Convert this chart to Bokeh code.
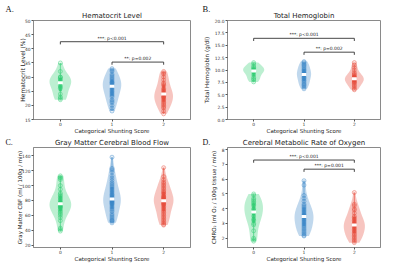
import numpy as np
from bokeh.plotting import figure
from bokeh.layouts import gridplot
from bokeh.models import Title, FixedTicker, NumeralTickFormatter, Range1d
from bokeh.embed import file_html
from bokeh.resources import INLINE

groups = [0, 1, 2]
colors = ["#2ecc71", "#3a87c8", "#e74c3c"]
x_label = "Categorical Shunting Score"

hct_0 = [35, 32, 30, 30, 29.5, 29, 28.5, 28, 27, 26.5, 26, 24, 23, 22.5, 22]
hct_1 = [33, 32.5, 32, 31, 30.5, 30, 29.5, 29, 28.5, 28, 28, 27.5, 27, 27, 26.5, 26,
         25.5, 25, 24.5, 24, 23.5, 23, 22, 21.5, 21, 20, 19, 18]
hct_2 = [32, 31.5, 31, 30, 29, 28, 27.5, 27, 26, 25.5, 25, 24.5, 24, 24, 23.5, 23, 23,
         22.5, 22, 21.5, 21, 20.5, 20, 19.5, 19, 18, 17]

hb_0 = [11.5, 11.2, 10.8, 10.5, 10.3, 10.1, 10, 9.8, 9.7, 9.5, 9, 8.5, 8.2, 8, 7.6]
hb_1 = [11.7, 11.5, 11.2, 11, 10.8, 10.5, 10.2, 10, 9.8, 9.5, 9.3, 9.2, 9.1, 9, 8.8,
        8.5, 8.3, 8, 7.8, 7.5, 7.2, 7, 6.8, 6.5, 6.2]
hb_2 = [11.5, 11, 10.5, 10, 9.5, 9.2, 9, 8.8, 8.6, 8.5, 8.4, 8.3, 8.2, 8, 8, 7.8, 7.6,
        7.5, 7.3, 7, 6.8, 6.5, 6.2, 6]

cbf_0 = [113, 111, 110, 108, 100, 95, 90, 88, 86, 84, 82, 80, 78, 77, 76, 76, 75, 74,
         73, 72, 71, 70, 68, 66, 64, 62, 60, 57, 53, 43, 41, 39]
cbf_1 = [138, 123, 121, 118, 113, 110, 107, 104, 102, 100, 98, 96, 94, 92, 90, 88, 87,
         85, 84, 83, 82, 81, 80, 79, 78, 77, 76, 75, 73, 71, 69, 67, 65, 62, 60, 58, 56,
         54, 53, 52, 50]
cbf_2 = [124, 112, 108, 105, 103, 101, 99, 97, 95, 93, 91, 90, 88, 86, 85, 84, 83, 82,
         81, 80, 79, 78, 77, 76, 75, 74, 72, 70, 68, 66, 64, 62, 60, 58, 56, 54, 52, 50,
         48, 47]

cmro_0 = [5.0, 4.9, 4.7, 4.6, 4.5, 4.4, 4.3, 4.2, 4.0, 3.9, 3.8, 3.75, 3.7, 3.5, 3.3,
          3.2, 3.0, 2.9, 2.5, 2.0, 1.9, 1.8]
cmro_1 = [5.9, 5.6, 4.9, 4.7, 4.5, 4.3, 4.2, 4.1, 4.0, 3.9, 3.8, 3.7, 3.6, 3.55, 3.5,
          3.45, 3.4, 3.3, 3.2, 3.1, 3.0, 2.9, 2.8, 2.7, 2.6, 2.5, 2.4, 2.3, 2.2, 2.15]
cmro_2 = [5.1, 4.3, 4.2, 4.0, 3.9, 3.7, 3.5, 3.4, 3.3, 3.2, 3.1, 3.0, 2.95, 2.9, 2.85,
          2.8, 2.7, 2.6, 2.5, 2.4, 2.3, 2.2, 2.1, 2.0, 1.9, 1.8, 1.7]

sig_a = [(0, 2, "***: p<0.001"), (1, 2, "**: p=0.002")]
sig_b = [(0, 2, "***: p<0.001"), (1, 2, "**: p=0.002")]
sig_d = [(0, 2, "***: p<0.001"), (1, 2, "***: p=0.001")]

FONT = "DejaVu Sans"


def kde(vals, n=120):
    v = np.asarray(vals, float)
    bw = v.std(ddof=1) * len(v) ** (-1 / 5)
    grid = np.linspace(v.min(), v.max(), n)
    d = np.exp(-0.5 * ((grid[:, None] - v[None, :]) / bw) ** 2).sum(1) / (len(v) * bw * np.sqrt(2 * np.pi))
    return grid, d


def panel(title, letter, ylabel, sets, yr, ticks, fmt, sig, sig_y,
          width, height, left, right, top, bottom, lab_standoff, ylab_size,
          letter_dx, letter_standoff, letter_size):
    letter_title = Title(text=letter, align="left", offset=letter_dx, vertical_align="bottom",
                         standoff=letter_standoff, text_font="Liberation Serif",
                         text_font_size=letter_size, text_font_style="normal",
                         text_color="#111111")
    p = figure(width=width, height=height, x_range=Range1d(-0.52, 2.52),
               y_range=Range1d(*yr), output_backend="svg", toolbar_location=None,
               min_border_left=left, min_border_right=right,
               min_border_top=top, min_border_bottom=bottom,
               background_fill_color="white", border_fill_color="white",
               title=letter_title)
    p.add_layout(Title(text=title, align="center", standoff=1, vertical_align="bottom",
                       text_font=FONT, text_font_size="7px", text_font_style="normal",
                       text_color="#222222"), "above")
    p.xgrid.visible = False
    p.ygrid.visible = False
    p.outline_line_color = "#8a8a8a"
    p.outline_line_width = 1
    for ax in (p.xaxis[0], p.yaxis[0]):
        ax.axis_line_color = "#8a8a8a"
        ax.major_tick_line_color = "#555555"
        ax.minor_tick_line_color = None
        ax.major_tick_in = 0
        ax.major_tick_out = 2
        ax.major_label_text_font = FONT
        ax.major_label_text_font_size = "4.4px"
        ax.major_label_text_color = "#333333"
        ax.major_label_standoff = 1
        ax.axis_label_text_font = FONT
        ax.axis_label_text_font_size = "5.5px"
        ax.axis_label_text_font_style = "normal"
        ax.axis_label_text_color = "#222222"
    p.xaxis.ticker = FixedTicker(ticks=groups)
    p.xaxis.axis_label = x_label
    p.xaxis.major_label_standoff = 0
    p.xaxis.axis_label_standoff = -1
    p.yaxis.ticker = FixedTicker(ticks=ticks)
    p.yaxis.formatter = NumeralTickFormatter(format=fmt)
    p.yaxis.axis_label = ylabel
    p.yaxis.axis_label_standoff = lab_standoff
    p.yaxis.axis_label_text_font_size = ylab_size

    dens = [kde(s) for s in sets]
    gmax = max(d.max() for _, d in dens)
    for g, s, (grid, d), c in zip(groups, sets, dens, colors):
        w = d / gmax * 0.21
        p.harea(y=grid, x1=g - w, x2=g + w, fill_color=c, fill_alpha=0.32)
        v = np.asarray(s, float)
        q1, med, q3 = np.percentile(v, [25, 50, 75])
        iqr = q3 - q1
        lo = v[v >= q1 - 1.5 * iqr].min()
        hi = v[v <= q3 + 1.5 * iqr].max()
        p.segment(x0=[g], y0=[lo], x1=[g], y1=[hi], line_color=c, line_width=0.8, line_alpha=0.8)
        p.segment(x0=[g], y0=[q1], x1=[g], y1=[q3], line_color=c, line_width=3, line_alpha=0.75)
        p.scatter(x=[g] * len(v), y=v, size=4, marker="circle", line_color=c,
                  line_width=0.7, fill_color=c, fill_alpha=0.12, line_alpha=0.6)
        p.rect(x=[g], y=[med], width=5, height=3, width_units="screen",
               height_units="screen", fill_color="white", line_color=None)

    span = yr[1] - yr[0]
    for (a, b, txt), h in zip(sig, sig_y):
        tick = span * 0.027
        p.line(x=[a, a, b, b], y=[h - tick, h, h, h - tick], line_color="#333333", line_width=0.9)
        p.text(x=[(a + b) / 2], y=[h], text=[txt], text_font_size="4.5px",
               text_align="center", text_baseline="bottom", y_offset=-1,
               text_color="#222222", text_font={"value": FONT})
    return p


pa = panel("Hematocrit Level", "A.", "Hematocrit Level (%)", [hct_0, hct_1, hct_2],
           (15, 50), [15, 20, 25, 30, 35, 40, 45, 50], "0", sig_a, [42.5, 35.3],
           200, 136, 33, 10, 20, 15, -4, "6px", -28, -8, "8.5px")
pb = panel("Total Hemoglobin", "B.", "Total Hemoglobin (g/dl)", [hb_0, hb_1, hb_2],
           (0, 20), [0, 2.5, 5, 7.5, 10, 12.5, 15, 17.5, 20], "0.0", sig_b, [16.4, 13.6],
           200, 136, 25, 20, 20, 15, 2, "5.7px", -25, -8, "8.5px")
pc = panel("Gray Matter Cerebral Blood Flow", "C.", "Gray Matter CBF (ml / 100g / min)",
           [cbf_0, cbf_1, cbf_2], (17, 151), [20, 40, 60, 80, 100, 120, 140], "0", [], [],
           200, 128, 33, 10, 10, 15, -4, "5.5px", -28, -20, "8px")
pd_ = panel("Cerebral Metabolic Rate of Oxygen", "D.", "CMRO₂ (ml O₂ / 100g tissue / min)",
            [cmro_0, cmro_1, cmro_2], (1.37, 8.15), [2, 3, 4, 5, 6, 7, 8], "0", sig_d,
            [7.3, 6.68], 200, 128, 25, 20, 10, 15, 2, "5.5px", -25, -20, "8px")

grid = gridplot([[pa, pb], [pc, pd_]], toolbar_location=None)
open("out.html", "w").write(file_html(grid, INLINE))
